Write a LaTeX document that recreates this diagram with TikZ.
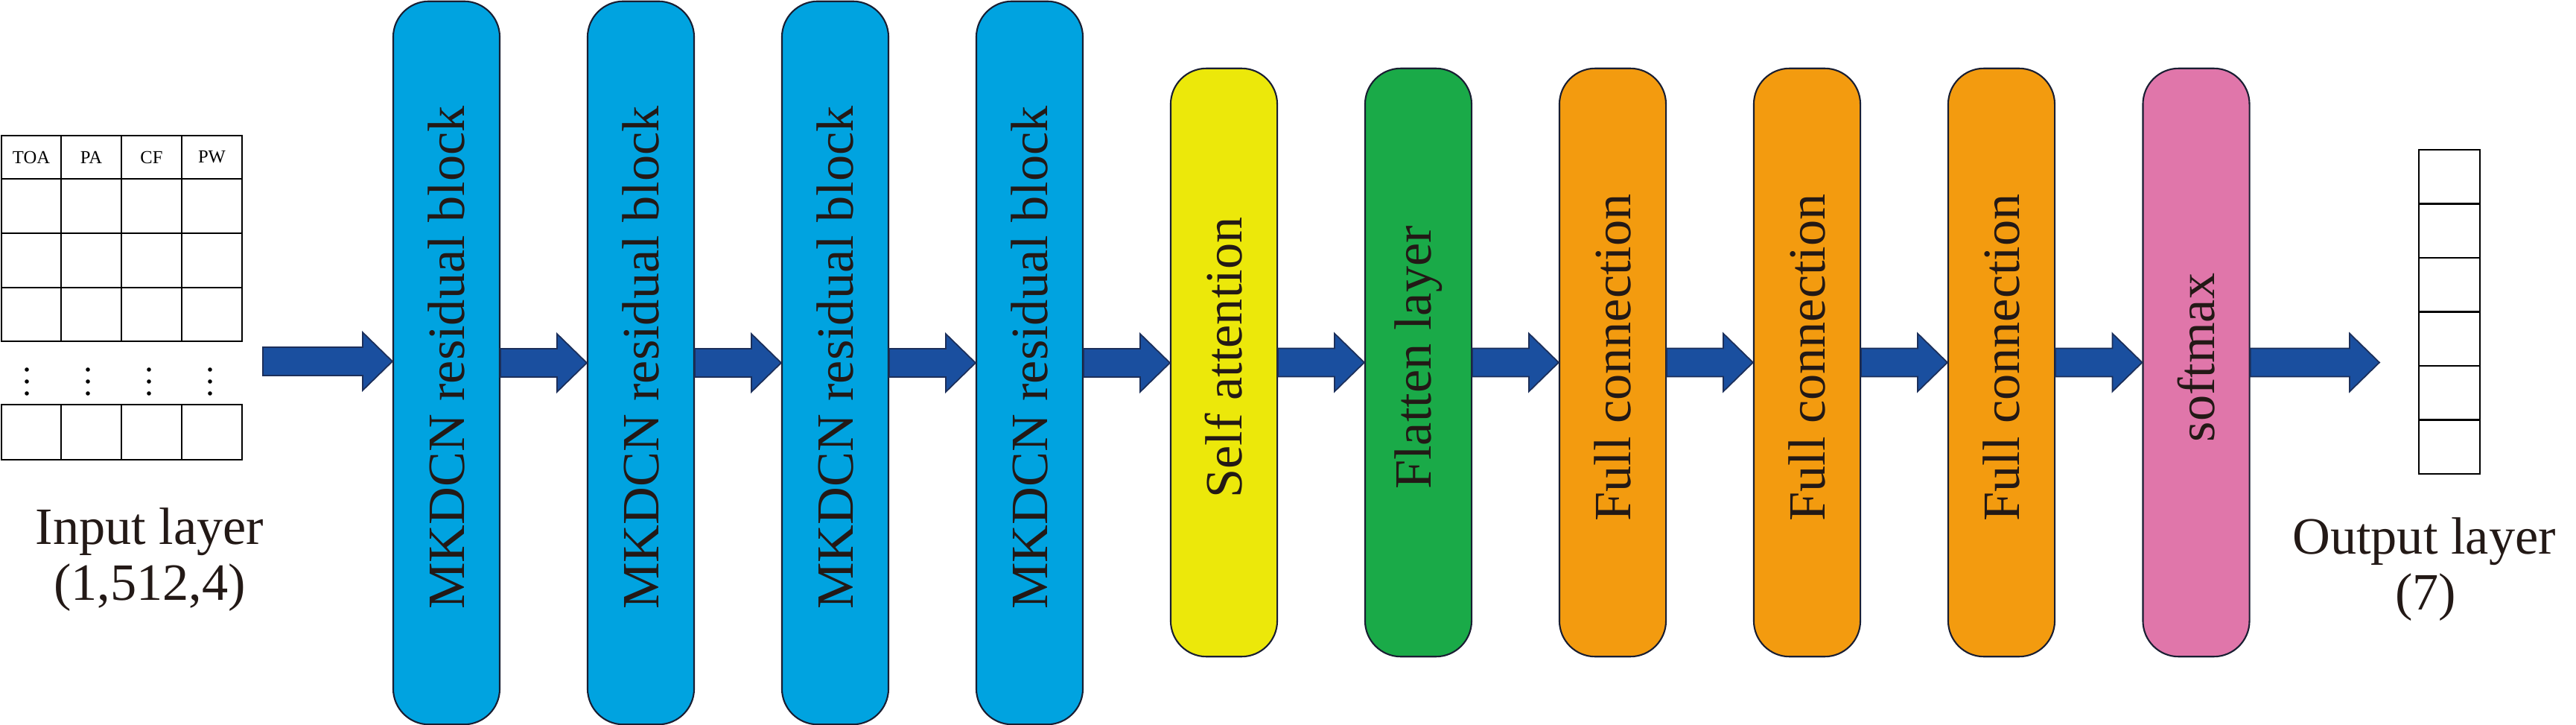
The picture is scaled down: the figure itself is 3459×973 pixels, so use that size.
\documentclass[tikz,border=0pt]{standalone}
\usepackage{fontspec}
\setmainfont{Liberation Serif}
\usetikzlibrary{calc}
\definecolor{mkblue}{RGB}{0,163,224}
\definecolor{attyellow}{RGB}{236,232,10}
\definecolor{flgreen}{RGB}{26,170,72}
\definecolor{fcorange}{RGB}{243,155,15}
\definecolor{smpink}{RGB}{224,118,170}
\definecolor{arrfill}{RGB}{26,79,159}
\definecolor{arrline}{RGB}{28,47,90}
\definecolor{blkline}{RGB}{25,30,50}
\definecolor{txt}{RGB}{35,25,22}
\newcommand{\fatarrow}[2]{%
  \path[fill=arrfill,draw=arrline,line width=0.5pt] let \p1=(#1), \p2=(#2) in
   (\x1,{\y1-0.19cm}) -- ({\x2-0.40cm},{\y1-0.19cm}) -- ({\x2-0.40cm},{\y1-0.39cm})
   -- (\x2,\y1) -- ({\x2-0.40cm},{\y1+0.39cm}) -- ({\x2-0.40cm},{\y1+0.19cm})
   -- (\x1,{\y1+0.19cm}) -- cycle;}
\begin{document}
\begin{tikzpicture}[x=0.01cm,y=-0.01cm,
  blk/.style={draw=blkline,line width=0.6pt,rounded corners=0.48cm,minimum width=1.43cm,inner sep=0pt},
  tallblk/.style={blk,minimum height=9.70cm},
  shortblk/.style={blk,minimum height=7.89cm},
  vlbl/.style={rotate=90,inner sep=0pt,text=txt,font=\fontsize{20}{24}\selectfont},
  biglbl/.style={anchor=base,inner sep=0pt,text=txt,font=\fontsize{20}{24}\selectfont},
  hdr/.style={inner sep=0pt,font=\fontsize{7}{8}\selectfont},
  tline/.style={line width=0.85pt,black},
  oline/.style={line width=0.75pt,black}]
\useasboundingbox (0,0) rectangle (3459,973);

% input table
\draw[tline] (2,182) rectangle (325,458);
\foreach \yy in {240,313,386} \draw[tline] (2,\yy) -- (325,\yy);
\foreach \xx in {82,163,244} \draw[tline] (\xx,182) -- (\xx,458);
\draw[tline] (2,543) rectangle (325,617);
\foreach \xx in {82,163,244} \draw[tline] (\xx,543) -- (\xx,617);
\node[hdr] (h1) at (42,211) {TOA};
\node[hdr] (h2) at (122.5,211) {PA};
\node[hdr] (h3) at (203.5,211) {CF};
\node[hdr] (h4) at (284.5,211) {PW};
\foreach \xx in {36,118,200,282}
  \foreach \yy in {496,512,528}
    \fill (\xx,\yy) circle (0.028cm);
\node[biglbl] (inl1) at (201,730) {Input layer};
\node[biglbl] (inl2) at (201,805) {(1,512,4)};
\coordinate (inR) at (353,485);

% blocks
\node[tallblk,fill=mkblue] (b1) at (599.5,487) {};
\node[tallblk,fill=mkblue] (b2) at (860.5,487) {};
\node[tallblk,fill=mkblue] (b3) at (1121.5,487) {};
\node[tallblk,fill=mkblue] (b4) at (1382.5,487) {};
\node[shortblk,fill=attyellow] (sa) at (1643.5,486.5) {};
\node[shortblk,fill=flgreen] (fl) at (1904.5,486.5) {};
\node[shortblk,fill=fcorange] (fc1) at (2165.5,486.5) {};
\node[shortblk,fill=fcorange] (fc2) at (2426.5,486.5) {};
\node[shortblk,fill=fcorange] (fc3) at (2687.5,486.5) {};
\node[shortblk,fill=smpink] (sm) at (2949,486.5) {};

\node[vlbl] (t1) at (599.5,480) {MKDCN residual block};
\node[vlbl] (t2) at (860.5,480) {MKDCN residual block};
\node[vlbl] (t3) at (1121.5,480) {MKDCN residual block};
\node[vlbl] (t4) at (1382.5,480) {MKDCN residual block};
\node[vlbl] (t5) at (1643.5,480) {Self attention};
\node[vlbl] (t6) at (1904.5,480) {Flatten layer};
\node[vlbl] (t7) at (2165.5,480) {Full connection};
\node[vlbl] (t8) at (2426.5,480) {Full connection};
\node[vlbl] (t9) at (2687.5,480) {Full connection};
\node[vlbl] (t10) at (2949,480) {softmax};

% output
\coordinate (outL) at (3195,485);
\draw[oline] (3248,201) rectangle (3330,636);
\foreach \i in {1,...,5} \draw[oline] (3248,{201+72.5*\i}) -- (3330,{201+72.5*\i});
\node[biglbl] (outl1) at (3255,743) {Output layer};
\node[biglbl] (outl2) at (3257,818) {(7)};

% arrows
\fatarrow{inR}{b1.west}
\fatarrow{b1.east}{b2.west}
\fatarrow{b2.east}{b3.west}
\fatarrow{b3.east}{b4.west}
\fatarrow{b4.east}{sa.west}
\fatarrow{sa.east}{fl.west}
\fatarrow{fl.east}{fc1.west}
\fatarrow{fc1.east}{fc2.west}
\fatarrow{fc2.east}{fc3.west}
\fatarrow{fc3.east}{sm.west}
\fatarrow{sm.east}{outL}
\end{tikzpicture}
\end{document}
